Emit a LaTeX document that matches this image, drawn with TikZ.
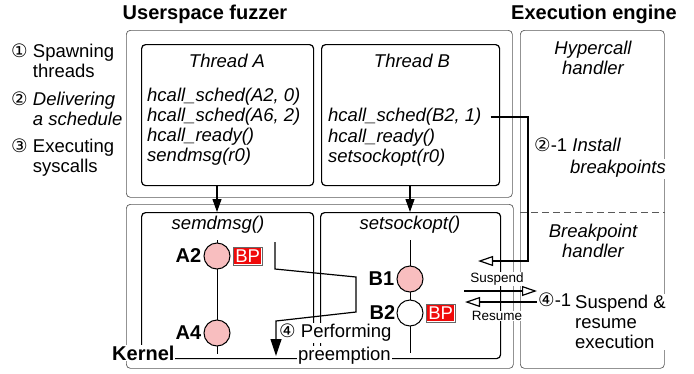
\documentclass[tikz,border=0pt]{standalone}
\usepackage{fontspec}
\setmainfont{Liberation Sans}
\newfontfamily\circfont{DejaVu Sans}
\usetikzlibrary{arrows.meta, positioning}
\definecolor{evpink}{HTML}{F8BEBF}
\definecolor{bpred}{HTML}{F00A0A}
\newcommand{\cnum}[1]{{\circfont #1}}
\newcommand{\bpmark}{{\fboxsep=1.5pt\colorbox{bpred}{\textcolor{white}{BP}}}}

\begin{document}
\begin{tikzpicture}[x=1pt, y=-1pt, font=\fontsize{18.5}{20}\selectfont,
    frame/.style={draw=black!65, line width=0.7pt, rounded corners=4pt, anchor=north west, inner sep=0pt},
    box/.style={draw=black, line width=1.2pt, rounded corners=4pt, anchor=north west, inner sep=0pt},
    ev/.style={circle, draw=black, line width=1pt, fill=evpink, minimum size=26pt, inner sep=0pt},
    bp/.style={draw=black!60, line width=0.5pt, fill=white, inner sep=1pt},
    cover/.style={fill=white, inner sep=1pt},
    code/.style={font=\fontsize{18.5}{20}\selectfont\itshape, align=left, anchor=west, inner sep=1pt},
    hd/.style={font=\fontsize{20}{21}\selectfont\bfseries},
    small/.style={font=\fontsize{13.5}{14}\selectfont, inner sep=0.5pt},
    solid arrow/.style={-{Triangle[length=13pt,width=9pt]}, line width=1.2pt},
    open arrow/.style={-{Triangle[open,length=15pt,width=10pt]}, line width=1.2pt}]
\useasboundingbox (0,0) rectangle (694,373);

% frames
\node[frame, minimum width=386pt, minimum height=167pt] (fuzzer) at (126,30) {};
\node[frame, minimum width=387pt, minimum height=164pt] (kernel) at (126,204) {};
\node[frame, minimum width=144pt, minimum height=338pt] (engine) at (520,30) {};
\node[box, minimum width=172pt, minimum height=141pt] (thA) at (141,44) {};
\node[box, minimum width=178pt, minimum height=141pt] (thB) at (321,44) {};
\node[box, minimum width=172pt, minimum height=146pt] (kA) at (141,212) {};
\node[box, minimum width=180pt, minimum height=146pt] (kB) at (320,212) {};
\coordinate (dsh) at (0,212);
\draw[dash pattern=on 7pt off 4pt, draw=black!65, line width=0.8pt] (engine.west |- dsh) -- (engine.east |- dsh);

\node[hd] (tfz) at (205,14) {Userspace fuzzer};
\node[hd] (ten) at (594,14) {Execution engine};

% steps on the left
\node[cover, align=left, anchor=west] (s1) at (10,61) {\cnum{①} Spawning\\\hphantom{\cnum{①}\ }threads};
\node[cover, align=left, anchor=west] (s2) at (10,109) {\cnum{②} \textit{Delivering}\\\hphantom{\cnum{②}\ }\textit{a schedule}};
\node[cover, align=left, anchor=west] (s3) at (10,158) {\cnum{③} Executing\\\hphantom{\cnum{③}\ }syscalls};

% threads
\node[code] (nameA) at (227,61) [anchor=center] {Thread A};
\node[code] (codeA) at (146,127) {hcall\_sched(A2, 0)\\hcall\_sched(A6, 2)\\hcall\_ready()\\sendmsg(r0)};
\node[code] (nameB) at (412,61) [anchor=center] {Thread B};
\node[code] (schedB) at (327,117) {hcall\_sched(B2, 1)};
\node[code] (codeB) at (327,148) {hcall\_ready()\\setsockopt(r0)};

% handlers
\node[code, align=center] (hyper) at (593,58) [anchor=center] {Hypercall\\handler};
\node[code, align=center] (bphand) at (593,241) [anchor=center] {Breakpoint\\handler};
\node[cover, anchor=west] (inst) at (533,145) {\cnum{②}-1 \textit{Install}};
\node[cover, anchor=east, font=\fontsize{18.5}{20}\selectfont\itshape] (brk) at (667,169) {breakpoints};
\node[cover, anchor=west] (n41) at (537,300) {\cnum{④}-1};
\node[cover, anchor=west, align=left] (susp) at (574,322) {Suspend \&\\resume\\execution};

% kernel side
\node[code] (sysA) at (218,225) [anchor=center] {semdmsg()};
\node[code] (sysB) at (410,225) [anchor=center] {setsockopt()};
\coordinate (atop) at (217,240);
\coordinate (abot) at (217,354);
\coordinate (btop) at (410,240);
\coordinate (bbot) at (410,353);
\draw[line width=1pt] (atop) -- (abot);
\draw[line width=1pt] (btop) -- (bbot);
\node[ev] (a2) at (217,256) {};
\node[ev] (a4) at (217,333) {};
\node[ev] (b1) at (410,279) {};
\node[ev, fill=white] (b2) at (410,313) {};
\node[hd, left=1pt of a2, inner sep=1pt] (la2) {A2};
\node[hd, left=1pt of a4, inner sep=1pt] (la4) {A4};
\node[hd, left=1pt of b1, inner sep=1pt] (lb1) {B1};
\node[hd, left=0pt of b2, inner sep=1pt] (lb2) {B2};
\node[bp, right=2pt of a2] (bpA) {\bpmark};
\node[bp, right=2pt of b2] (bpB) {\bpmark};

\node[cover, hd, anchor=west] (kern) at (111,353) {Kernel};
\node[cover, anchor=west] (perf) at (278,333) {\cnum{④} Performing};
\node[cover, anchor=west] (preem) at (297,356) {preemption};
\node[cover, small] (lsus) at (497,279) {Suspend};
\node[cover, small] (lres) at (497,316) {Resume};

% connectors
\draw[solid arrow] (thA.south -| a2) -- (kA.north -| a2);
\draw[solid arrow] (thB.south -| b1) -- (kB.north -| b1);
\coordinate (pstart) at (275,242);
\coordinate (pend) at (276,356);
\draw[-{Triangle[length=17pt,width=11pt]}, line width=1.2pt] (pstart) -- (275,269) -- (356,277) -- (356,312) -- (276,321) -- (pend);
\coordinate (bpin) at (478,261);
\draw[open arrow] ([xshift=8pt]schedB.east) -| (528,261) -- (bpin);
\coordinate (sfrom) at (464,291);
\coordinate (rto) at (465,302);
\draw[open arrow] (sfrom) -- (sfrom -| n41.west);
\draw[open arrow] (rto -| n41.west) -- (rto);
\end{tikzpicture}
\end{document}
